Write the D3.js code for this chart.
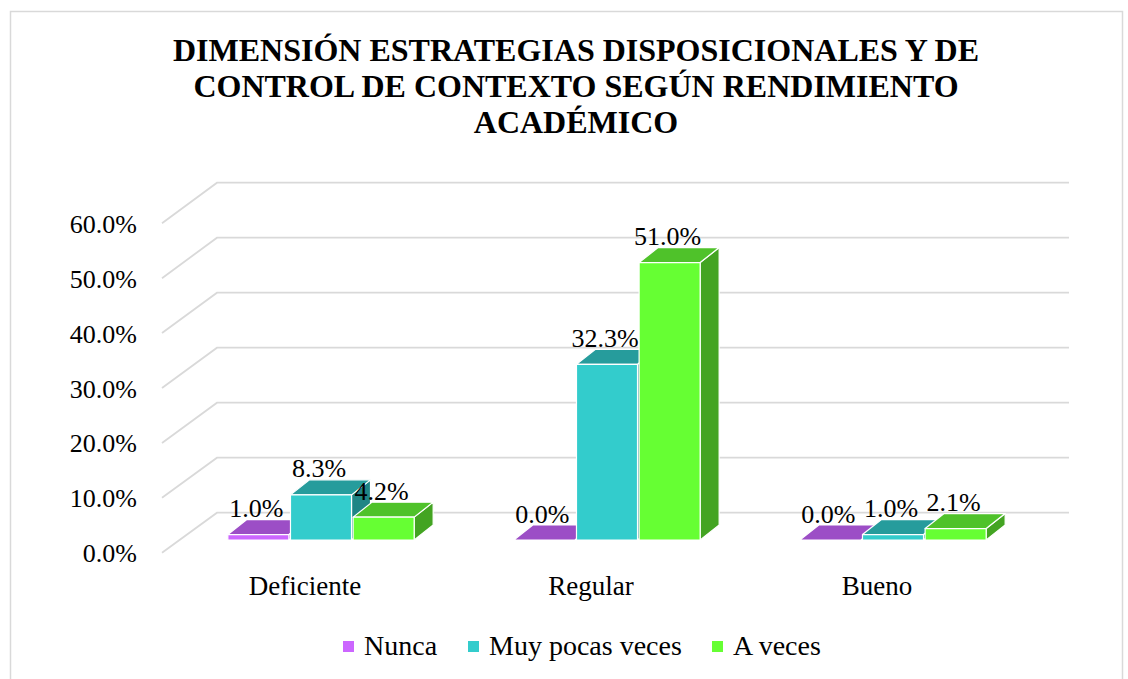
<!DOCTYPE html>
<html><head><meta charset="utf-8">
<script src="https://cdn.jsdelivr.net/npm/d3@7"></script>
<style>html,body{margin:0;padding:0;background:#fff}svg{display:block}</style>
</head><body><svg id="c" width="1128" height="679"></svg>
<script>
const categories = ["Deficiente", "Regular", "Bueno"];
const seriesNames = ["Nunca", "Muy pocas veces", "A veces"];
const nunca = [1.0, 0.0, 0.0];
const muyPocas = [8.3, 32.3, 1.0];
const aVeces = [4.2, 51.0, 2.1];
const tickValues = [0, 10, 20, 30, 40, 50, 60];
const titleLines = ["DIMENSIÓN ESTRATEGIAS DISPOSICIONALES Y DE", "CONTROL DE CONTEXTO SEGÚN RENDIMIENTO", "ACADÉMICO"];

const seriesValues = [nunca, muyPocas, aVeces];
const colors = [
  {front: "#CC66FF", top: "#9C4EC6", side: "#8A3FB0"},
  {front: "#33CCCC", top: "#269C9C", side: "#1F8585"},
  {front: "#66FF33", top: "#4FC22A", side: "#43A422"}
];
const font = "'Liberation Serif','Times New Roman',serif";
const svg = d3.select("#c");

// chart border
svg.append("rect").attr("x", 10.5).attr("y", 11.5).attr("width", 1112).attr("height", 700)
  .attr("fill", "#fff").attr("stroke", "#d9d9d9").attr("stroke-width", 1.5);

// title
svg.append("g").selectAll("text").data(titleLines).join("text")
  .attr("x", 576).attr("y", (d, i) => 61 + i * 36)
  .attr("text-anchor", "middle").attr("font-family", font).attr("font-weight", "bold")
  .attr("font-size", 32).attr("fill", "#000").text(d => d);

// scales
const yFront = d3.scaleLinear().domain([0, 60]).range([552.7, 223.3]);
const yBack = d3.scaleLinear().domain([0, 60]).range([512.7, 182.7]);
const yBar = d3.scaleLinear().domain([0, 60]).range([540, 213.6]);
const frontX = 162, backX = 217, backRight = 1069;
const x = d3.scaleBand().domain(categories).range([178, 178 + 3 * 286]).paddingInner(0.343).paddingOuter(0.1715);
const xs = d3.scaleBand().domain(seriesNames).range([0, x.bandwidth()]);
const depthX = 19, depthY = -15;
const planeShift = 16; // front plane offset relative to bar plane

// gridlines
const grid = svg.append("g").attr("fill", "none").attr("stroke", "#d9d9d9").attr("stroke-width", 1.8);
grid.selectAll("path").data(tickValues).join("path")
  .attr("d", v => `M${frontX},${yFront(v)}L${backX},${yBack(v)}L${backRight},${yBack(v)}`);

// y tick labels
svg.append("g").selectAll("text").data(tickValues).join("text")
  .attr("x", 137).attr("y", v => yFront(v) + 1).attr("dominant-baseline", "central")
  .attr("text-anchor", "end").attr("font-family", font).attr("font-size", 26).attr("fill", "#000")
  .text(v => d3.format(".1f")(v) + "%");

// bars
const bars = [];
categories.forEach((c, ci) => {
  seriesNames.forEach((s, si) => {
    bars.push({cat: c, ser: s, si, v: seriesValues[si][ci]});
  });
});
const barG = svg.append("g").attr("stroke", "#fff").attr("stroke-width", 1.2).attr("stroke-linejoin", "round");
bars.forEach(b => {
  const x0 = x(b.cat) + xs(b.ser) + 0.8;
  const x1 = x0 + xs.bandwidth() - 1.6;
  const yb = yBar(0), yt = yBar(b.v);
  const g = barG.append("g");
  g.append("path").attr("fill", colors[b.si].side)
    .attr("d", `M${x1},${yb}L${x1 + depthX},${yb + depthY}L${x1 + depthX},${yt + depthY}L${x1},${yt}Z`);
  g.append("path").attr("fill", colors[b.si].top)
    .attr("d", `M${x0},${yt}L${x0 + depthX},${yt + depthY}L${x1 + depthX},${yt + depthY}L${x1},${yt}Z`);
  if (yb - yt > 0.5) {
    g.append("rect").attr("fill", colors[b.si].front)
      .attr("x", x0).attr("y", yt).attr("width", x1 - x0).attr("height", yb - yt);
  }
  b.cx = (x0 + x1) / 2 - 2;
  b.ly = yt + depthY - 2.5;
});

// value labels
svg.append("g").selectAll("text").data(bars).join("text")
  .attr("x", d => d.cx).attr("y", d => d.ly).attr("text-anchor", "middle")
  .attr("font-family", font).attr("font-size", 26).attr("fill", "#000")
  .text(d => d3.format(".1f")(d.v) + "%");

// category labels
svg.append("g").selectAll("text").data(categories).join("text")
  .attr("x", d => x(d) + x.bandwidth() / 2 - planeShift).attr("y", 595)
  .attr("text-anchor", "middle").attr("font-family", font).attr("font-size", 27).attr("fill", "#000")
  .text(d => d);

// legend
const legendX = [343, 468, 712];
const lg = svg.append("g");
seriesNames.forEach((s, i) => {
  lg.append("rect").attr("x", legendX[i]).attr("y", 641).attr("width", 11).attr("height", 11)
    .attr("fill", colors[i].front);
  lg.append("text").attr("x", legendX[i] + 21).attr("y", 655)
    .attr("font-family", font).attr("font-size", 28).attr("fill", "#000").text(s);
});
</script></body></html>
